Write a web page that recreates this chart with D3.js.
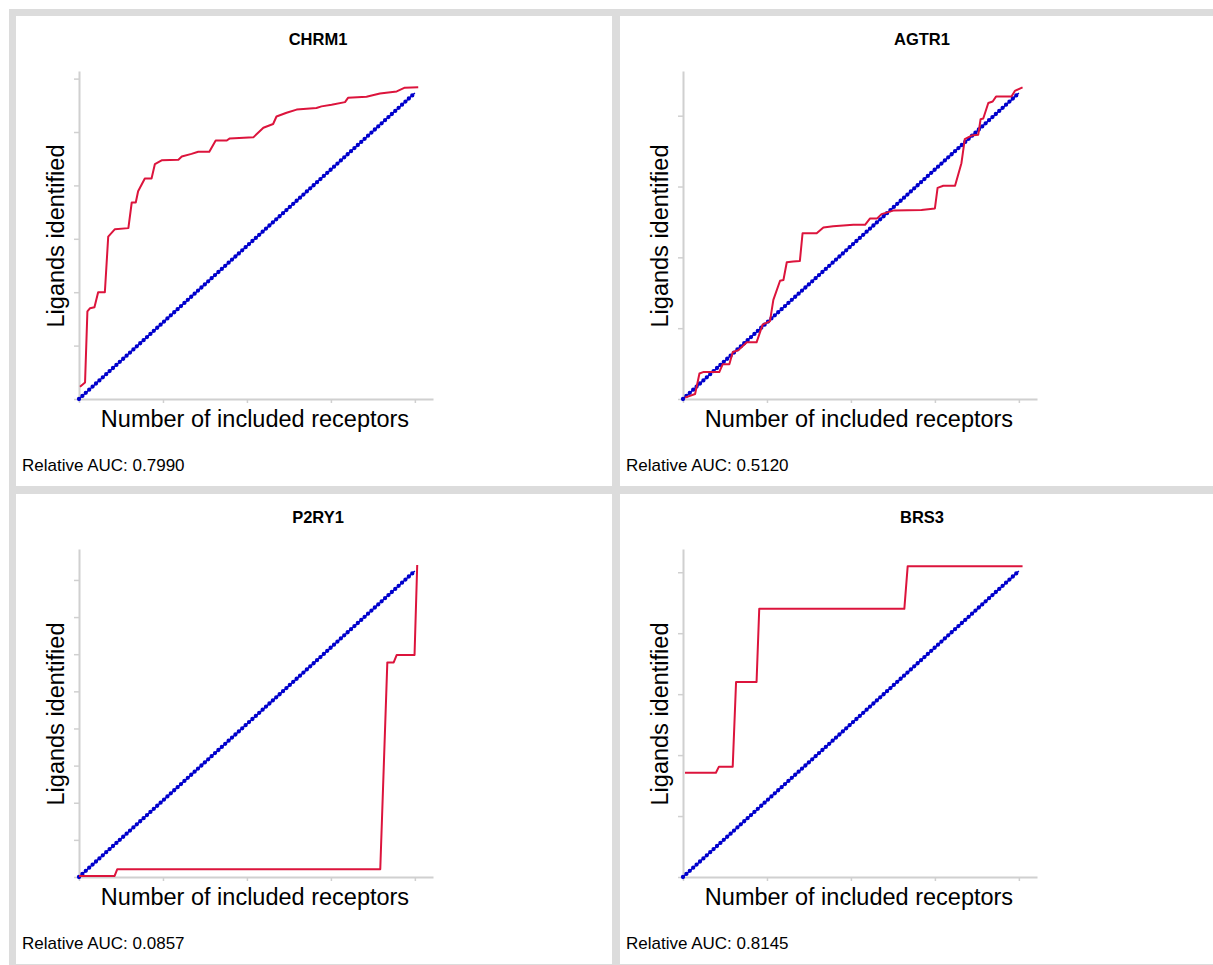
<!DOCTYPE html>
<meta charset="utf-8">
<style>
body {
  margin: 0;
  background: #fff;
  font-family: "Liberation Sans", Arial, Helvetica, sans-serif;
  overflow: hidden;
}
#frame {
  position: absolute;
  left: 9px;
  top: 9px;
  background: #dcdcdc;
  padding: 7px;
  display: grid;
  grid-template-columns: 596px 596px;
  grid-template-rows: 470px 470px;
  gap: 8px;
}
.panel {
  background: #fff;
}
.axis path.domain {
  stroke: #d0d0d0;
  stroke-width: 2;
}
.axis .tick line {
  stroke: #d0d0d0;
  stroke-width: 1.5;
}
.title {
  font-weight: bold;
  font-size: 16.5px;
}
.axis-label {
  font-size: 23.5px;
}
.auc {
  font-size: 17px;
}
.curve {
  fill: none;
  stroke: #dc143c;
  stroke-width: 2;
  stroke-linejoin: round;
}
.random {
  fill: none;
  stroke: #0000cc;
}
</style>
<body>
<div id="frame"></div>
<script src="https://cdn.jsdelivr.net/npm/d3@7"></script>
<script>
// panels, in page order
var genes = ["CHRM1", "AGTR1", "P2RY1", "BRS3"];
var relativeAUC = ["0.7990", "0.5120", "0.0857", "0.8145"];

// receptors on x, total ligands reached by the random ordering on y
var totalReceptors = [100, 100, 100, 100];
var totalLigands = [57.3, 43.2, 8.24, 5.02];
var receptorTicks = [0, 25, 50, 75, 100];
var ligandTicks = [
  [0, 10, 20, 30, 40, 50, 60],
  [0, 10, 20, 30, 40],
  [0, 1, 2, 3, 4, 5, 6, 7, 8],
  [0, 1, 2, 3, 4, 5]
];

// ranked curves: [receptors included, ligands identified]
var chrm1Curve = [[0.3,2.3],[1.8,3.1],[2.5,16.4],[3.3,17.0],[4.6,17.2],[5.7,20.0],[7.7,20.0],[8.7,30.4],
  [10.7,31.8],[14.7,32.0],[15.7,36.8],[16.9,36.8],[17.6,38.9],[19.6,41.3],[21.6,41.3],[22.6,44.0],
  [24.6,44.7],[29.6,44.8],[30.6,45.4],[33.5,45.9],[35.5,46.3],[38.8,46.3],[40.7,48.4],[44.0,48.4],
  [44.9,48.8],[51.9,49.0],[54.9,50.8],[57.8,51.5],[58.8,52.9],[61.8,53.6],[64.8,54.2],[70.7,54.5],
  [72.2,54.8],[75.2,55.1],[79.2,55.6],[80.1,56.4],[85.6,56.6],[89.6,57.2],[94.6,57.6],[97.0,58.3],[101.0,58.4]];
var agtr1Curve = [[0.6,0.2],[3.6,0.7],[4.9,3.6],[6.0,3.8],[10.8,3.8],[11.8,4.9],[13.8,4.9],[14.8,6.6],
  [16.5,6.9],[19.0,8.0],[21.9,8.0],[23.7,10.5],[25.9,11.0],[26.9,14.0],[28.9,16.7],[29.9,16.8],
  [30.9,19.3],[32.8,19.4],[34.8,19.5],[35.6,23.4],[39.8,23.4],[41.8,24.2],[44.7,24.4],[50.7,24.6],
  [54.2,24.6],[55.7,25.5],[57.8,25.5],[59.1,26.1],[62.6,26.6],[71.0,26.7],[75.0,26.9],[75.8,29.8],
  [77.5,30.1],[81.0,30.1],[82.9,33.3],[83.9,36.7],[85.9,37.2],[87.9,37.3],[88.6,39.5],[89.4,39.6],
  [90.9,41.8],[92.2,42.0],[93.2,42.7],[97.8,42.7],[98.8,43.5],[101.1,44.0]];
var p2ry1Curve = [[0,0.03],[10.6,0.03],[11.4,0.21],[89.7,0.21],[91.8,5.78],[93.7,5.78],[94.6,5.98],
  [99.9,5.98],[100.7,8.40]];
var brs3Curve = [[0.6,1.71],[9.8,1.71],[10.7,1.81],[14.8,1.81],[15.8,3.20],[21.9,3.20],[22.7,4.40],
  [65.9,4.40],[66.9,5.10],[101.1,5.10]];
var curves = [chrm1Curve, agtr1Curve, p2ry1Curve, brs3Curve];

var W = 596, H = 470;

genes.forEach(function(gene, i) {
  var svg = d3.select("#frame").append("div").attr("class", "panel")
    .append("svg").attr("width", W).attr("height", H);

  var x = d3.scaleLinear().domain([0, totalReceptors[i] * 1.054]).range([63, 417]);
  var y = d3.scaleLinear().domain([0, totalLigands[i] * 1.072]).range([383, 55]);

  svg.append("g").attr("class", "axis")
    .attr("transform", "translate(0,383)")
    .call(d3.axisBottom(x).tickValues(receptorTicks).tickSize(4).tickSizeOuter(0).tickFormat(""));

  svg.append("g").attr("class", "axis")
    .attr("transform", "translate(63,0)")
    .call(d3.axisLeft(y).tickValues(ligandTicks[i]).tickSize(5).tickSizeOuter(0).tickFormat(""));

  var line = d3.line().x(function(d) { return x(d[0]); }).y(function(d) { return y(d[1]); });

  // random ordering: straight from origin to (all receptors, all ligands)
  var randomEnds = [[0, 0], [totalReceptors[i], totalLigands[i]]];
  svg.append("path").attr("class", "random").attr("d", line(randomEnds))
    .attr("stroke-width", 1.6);
  svg.append("path").attr("class", "random").attr("d", line(randomEnds))
    .attr("stroke-width", 4.3)
    .attr("stroke-linecap", "round")
    .attr("stroke-dasharray", "0 4.6");

  svg.append("path").attr("class", "curve").attr("d", line(curves[i]));

  svg.append("text").attr("class", "title")
    .attr("x", 302).attr("y", 29)
    .attr("text-anchor", "middle")
    .text(gene);

  svg.append("text").attr("class", "axis-label")
    .attr("x", 239).attr("y", 411)
    .attr("text-anchor", "middle")
    .text("Number of included receptors");

  svg.append("text").attr("class", "axis-label")
    .attr("transform", "translate(48,220) rotate(-90)")
    .attr("text-anchor", "middle")
    .text("Ligands identified");

  svg.append("text").attr("class", "auc")
    .attr("x", 6).attr("y", 455)
    .text("Relative AUC: " + relativeAUC[i]);
});
</script>
</body>
